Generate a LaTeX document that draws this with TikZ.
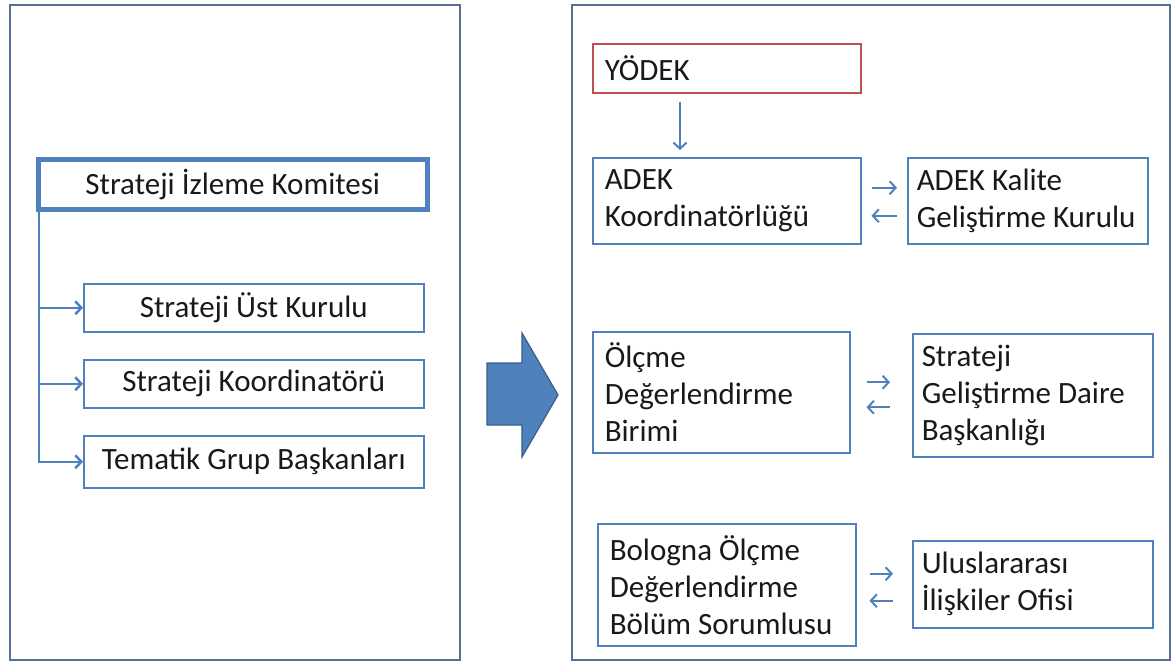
\documentclass[tikz,border=0pt]{standalone}
\usepackage{fontspec}
\setmainfont{Carlito}
\usetikzlibrary{arrows.meta,positioning}

\definecolor{boxblue}{RGB}{79,129,189}
\definecolor{boxred}{RGB}{192,80,77}
\definecolor{framegray}{RGB}{84,112,150}
\definecolor{arrowedge}{RGB}{56,93,138}

\begin{document}
\begin{tikzpicture}[
    x=1pt, y=-1pt,
    every node/.style={font=\fontsize{31}{37}\selectfont, text=black!90},
    frame/.style={draw=framegray, line width=1.5pt},
    box/.style={rectangle, draw=boxblue, line width=1.5pt, anchor=north west, inner sep=0pt},
    headbox/.style={box, line width=4.5pt},
    textbox/.style={box, align=flush left, inner xsep=12pt, inner ysep=0pt},
    sidebox/.style={textbox, inner xsep=9pt, text width=222pt},
    redbox/.style={textbox, draw=boxred},
    link/.style={draw=boxblue, line width=2pt, -{Straight Barb[length=6pt,width=13pt]}},
    tree/.style={link, line width=2.5pt},
    bigarrow/.style={fill=boxblue, draw=arrowedge, line width=1.2pt}
]
\useasboundingbox (0,0) rectangle (1174,664);

% Outer frames
\draw[frame] (10,5) rectangle (460,660);
\draw[frame] (572,5) rectangle (1170,660);

% Left side
\node[headbox, minimum width=389pt, minimum height=50pt] (sik) at (36,157) {Strateji İzleme Komitesi};
\node[box, minimum width=340pt, minimum height=48pt] (ustk) at (83,283) {Strateji Üst Kurulu};
\node[box, minimum width=340pt, minimum height=48pt] (koord) at (83,359) {Strateji Koordinatörü};
\node[box, minimum width=340pt, minimum height=52pt] (tematik) at (83,435) {Tematik Grup Başkanları};

% Left side connectors
\draw[tree] ([xshift=3pt]sik.south west) |- (ustk.west);
\draw[tree] ([xshift=3pt]sik.south west) |- (koord.west);
\draw[tree] ([xshift=3pt]sik.south west) |- (tematik.west);

% Big arrow
\draw[bigarrow] (487,363) -- (522,363) -- (522,333) -- (558,395) -- (522,457) -- (522,425) -- (487,425) -- cycle;

% Right side
\node[redbox, text width=244pt, minimum height=49pt] (yodek) at (592,43) {YÖDEK};
\node[textbox, text width=244pt, minimum height=86pt] (adek) at (592,157) {ADEK\\Koordinatörlüğü};
\node[sidebox, minimum height=86pt] (kalite) at (907,157) {ADEK Kalite\\Geliştirme Kurulu};
\node[textbox, text width=233pt, minimum height=121pt] (olcme) at (592,331) {Ölçme\\Değerlendirme\\Birimi};
\node[sidebox, minimum height=123pt] (sgdb) at (912,333) {Strateji\\Geliştirme Daire\\Başkanlığı};
\node[textbox, text width=234pt, minimum height=122pt] (bologna) at (597,523) {Bologna Ölçme\\Değerlendirme\\Bölüm Sorumlusu};
\node[sidebox, minimum height=87pt] (ulus) at (912,540) {Uluslararası\\İlişkiler Ofisi};

% Right side connectors
\draw[link] ([xshift=88pt,yshift=-8pt]yodek.south west) -- ([xshift=88pt,yshift=7pt]adek.north west);

\draw[link, shorten <=10pt, shorten >=10pt] ([yshift=13pt]adek.east) -- ([yshift=13pt]adek.east -| kalite.west);
\draw[link, shorten <=10pt, shorten >=10pt] ([yshift=-15pt]adek.east -| kalite.west) -- ([yshift=-15pt]adek.east);

\draw[link, shorten <=16pt, shorten >=22pt] ([yshift=10pt]olcme.east) -- ([yshift=10pt]olcme.east -| sgdb.west);
\draw[link, shorten <=22pt, shorten >=16pt] ([yshift=-15pt]olcme.east -| sgdb.west) -- ([yshift=-15pt]olcme.east);

\draw[link, shorten <=13pt, shorten >=19pt] ([yshift=11pt]bologna.east) -- ([yshift=11pt]bologna.east -| ulus.west);
\draw[link, shorten <=19pt, shorten >=13pt] ([yshift=-16pt]bologna.east -| ulus.west) -- ([yshift=-16pt]bologna.east);

\end{tikzpicture}
\end{document}
